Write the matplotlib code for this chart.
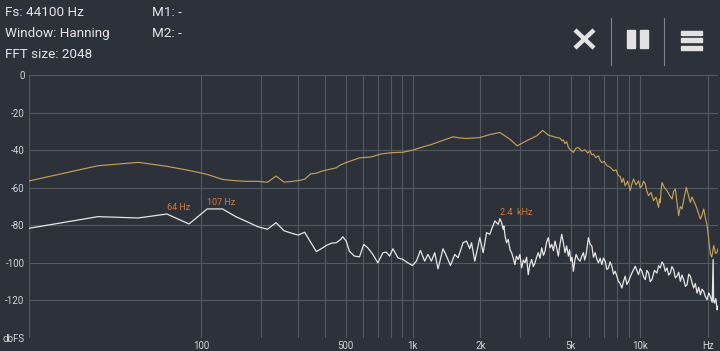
import numpy as np
import matplotlib
matplotlib.use("Agg")
import matplotlib.pyplot as plt
from matplotlib.patches import Rectangle

plt.rcParams['font.family'] = ['Roboto', 'DejaVu Sans']

# spectrum values (Hz, dBFS)
white_f = [0, 21.5, 43.1, 64.6, 86.1, 107.7, 129.2, 150.7, 172.3, 193.8, 215.3, 236.9, 258.4, 279.9,
           301.5, 323, 344.5, 366, 388, 409, 431, 452, 474, 484, 502, 519, 547, 577, 603, 629, 663, 698,
           736, 762, 788, 816, 859, 905, 953, 998, 1039, 1083, 1132, 1170, 1212, 1254, 1297, 1365, 1414,
           1473, 1539, 1592, 1675, 1735, 1794, 1826, 1888, 1987, 2055, 2128, 2200, 2239, 2315, 2394, 2436,
           2478, 2519, 2537, 2570, 2608, 2650, 2700, 2744, 2790, 2838, 2880, 2934, 2985, 3037, 3090, 3141,
           3195, 3248, 3300, 3363, 3420, 3477, 3535, 3595, 3660, 3722, 3790, 3848, 3910, 3979, 4050, 4119,
           4190, 4258, 4330, 4404, 4480, 4558, 4630, 4713, 4790, 4874, 4930, 4995, 5060, 5128, 5200, 5270,
           5380, 5488, 5580, 5675, 5750, 5832, 5900, 5970, 6070, 6179, 6280, 6388, 6500, 6604, 6720, 6835,
           6950, 7068, 7190, 7307, 7430, 7563, 7690, 7820, 7950, 8085, 8220, 8368, 8500, 8653, 8800, 8947,
           9100, 9260, 9420, 9572, 9730, 9899, 10070, 10246, 10420, 10594, 10770, 10952, 11140, 11334,
           11620, 11922, 12120, 12327, 12540, 12744, 12960, 13190, 13410, 13635, 13860, 14098, 14340,
           14592, 14840, 15087, 15340, 15599, 15870, 16145, 16420, 16690, 16970, 17257, 17550, 17860,
           18160, 18467, 18780, 19093, 19420, 19759, 20090, 20431, 20800, 20995, 21100, 21272, 21560,
           21860, 22000]
white_db = [-81.6, -75.4, -76.1, -74.0, -79.3, -71.3, -71.3, -75.4, -78.2, -80.8, -82.1, -78.6, -82.9, -84.2,
            -85.2, -83.7, -89.0, -94.0, -92.3, -90.6, -89.5, -89.3, -87.5, -86.1, -88.4, -93.8, -96.4, -96.8,
            -90.2, -92.0, -95.5, -100.0, -94.6, -94.3, -96.4, -92.5, -97.3, -98.2, -100.0, -101.4, -99.1,
            -93.4, -99.1, -95.5, -99.1, -94.6, -103.2, -92.5, -96.4, -101.4, -95.5, -97.3, -89.3, -88.4,
            -92.5, -89.3, -99.1, -86.6, -94.6, -83.9, -84.8, -82.1, -77.7, -79.5, -76.5, -78.6, -82.1, -80.4,
            -86.0, -89.3, -87.5, -93.0, -94.6, -97.5, -100.9, -96.5, -98.2, -95.5, -102.7, -98.5, -100.0,
            -97.0, -106.3, -101.0, -98.2, -102.0, -100.0, -97.0, -94.6, -97.5, -92.0, -96.0, -93.8, -89.0,
            -86.6, -92.0, -90.2, -93.5, -88.4, -92.0, -96.4, -90.0, -84.8, -89.0, -94.6, -91.0, -96.4, -93.0,
            -99.1, -97.0, -104.5, -99.0, -95.5, -98.0, -99.1, -96.5, -94.6, -98.5, -95.5, -91.0, -86.6, -90.0,
            -91.1, -97.0, -94.6, -98.0, -100.0, -97.5, -100.9, -97.5, -99.1, -103.5, -102.7, -99.5, -101.8,
            -106.0, -104.5, -107.0, -109.8, -111.0, -113.4, -110.0, -107.1, -111.5, -109.8, -107.5, -105.4,
            -103.5, -101.8, -104.0, -106.3, -103.0, -104.5, -107.5, -108.9, -104.0, -105.4, -110.0, -108.9,
            -104.0, -105.4, -101.5, -102.7, -99.5, -100.9, -104.5, -102.7, -106.5, -105.4, -102.0, -103.6,
            -108.0, -107.1, -105.0, -109.8, -106.5, -108.9, -112.5, -111.6, -106.0, -107.1, -110.5, -113.4,
            -111.0, -116.1, -113.0, -117.0, -114.0, -115.2, -118.0, -119.6, -116.0, -117.9, -121.0, -98.2,
            -120.0, -121.4, -119.0, -125.0, -123.2]

gold_f = [0, 21.5, 43.1, 64.6, 86.1, 107.7, 129.2, 150.7, 172.3, 193.8, 215.3, 236.9, 258.4, 279.9, 301.5,
          323, 344.5, 366, 388, 409, 431, 452, 474, 502, 577, 652, 723, 816, 905, 1000, 1151, 1191, 1320,
          1513, 1620, 1735, 1987, 2200, 2436, 2697, 2904, 3195, 3537, 3760, 3979, 4334, 4482, 4560, 4634,
          4710, 4796, 4874, 5000, 5128, 5260, 5395, 5580, 5772, 5920, 6072, 6180, 6279, 6440, 6604, 6720,
          6835, 7010, 7190, 7430, 7687, 7880, 8085, 8230, 8368, 8500, 8653, 8870, 9101, 9250, 9411, 9650,
          9899, 10070, 10246, 10420, 10594, 10770, 10952, 11230, 11519, 11800, 12116, 12220, 12327, 12430,
          12540, 12860, 13190, 13530, 13875, 14110, 14345, 14590, 14831, 15090, 15350, 15690, 16030,
          16360, 16690, 16970, 17257, 17560, 17860, 18160, 18467, 18780, 19093, 19420, 19759, 20081,
          20260, 20431, 20700, 21121, 21500, 21860, 22000]
gold_db = [-56.4, -48.3, -46.5, -48.6, -50.8, -52.9, -55.6, -56.3, -56.6, -56.6, -57.1, -53.8, -57.0, -56.7,
           -56.2, -55.5, -52.6, -52.3, -51.2, -50.6, -50.0, -49.4, -47.8, -46.6, -44.1, -43.6, -42.0, -41.3,
           -41.1, -40.0, -37.7, -37.3, -35.4, -32.9, -33.5, -33.8, -33.3, -31.7, -30.6, -34.2, -37.7, -35.0,
           -32.4, -29.5, -32.0, -33.3, -33.6, -35.0, -34.5, -36.5, -35.5, -38.6, -40.0, -41.2, -39.0, -38.6,
           -40.5, -39.8, -41.5, -40.4, -42.5, -42.1, -44.0, -43.0, -45.5, -46.6, -46.0, -48.3, -49.0, -51.0,
           -50.5, -53.6, -54.0, -57.2, -55.0, -59.0, -56.5, -61.6, -58.0, -55.4, -58.5, -56.3, -60.0, -59.0,
           -56.5, -58.0, -62.0, -64.3, -62.5, -66.9, -65.0, -70.5, -66.0, -67.8, -61.0, -57.2, -60.0, -61.6,
           -64.0, -66.0, -62.0, -60.7, -68.0, -74.9, -70.0, -71.3, -65.0, -59.8, -64.0, -67.8, -65.0, -66.9,
           -69.0, -71.3, -74.0, -76.7, -74.5, -71.3, -76.0, -80.2, -87.3, -92.0, -95.3, -97.0, -90.8, -95.0,
           -94.4, -92.6]

peak_f = [64.6, 107.7, 2436]
peak_db = [-74.0, -71.3, -76.5]
peak_txt = ["64 Hz", "107 Hz", "2.4  kHz"]

ytick_vals = [0, -20, -40, -60, -80, -100, -120, -140]
ytick_txt = ["0", "-20", "-40", "-60", "-80", "-100", "-120", "dbFS"]
xtick_vals = [100, 500, 1000, 2000, 5000, 10000, 20000]
xtick_txt = ["100", "500", "1k", "2k", "5k", "10k", "Hz"]
xgrid_vals = [100, 200, 300, 400, 500, 600, 700, 800, 900, 1000, 2000, 3000, 4000, 5000, 6000,
              7000, 8000, 9000, 10000, 20000]

bg = '#2d3139'
grid_col = '#535961'
txt_col = '#e4e4e4'
lbl_col = '#d2d4d7'
orange = '#d27a3e'

fig = plt.figure(figsize=(7.2, 3.51), dpi=100, facecolor=bg)
ax = fig.add_axes([29 / 720, 1 - 338 / 351, 689 / 720, 263 / 351])
ax.set_facecolor(bg)

off = 21.5
ax.set_xscale('function', functions=(lambda f: np.log10(np.maximum(f + off, 1e-3)),
                                     lambda v: 10 ** v - off))
ax.set_xlim(0, 22050)
ax.set_ylim(-140, 0)

for v in xgrid_vals:
    ax.axvline(v, color=grid_col, lw=0.8, zorder=0)
for v in ytick_vals:
    ax.axhline(v, color=grid_col, lw=0.8, zorder=0)
ax.axvline(0, color=grid_col, lw=0.8, zorder=0)

ax.plot(gold_f, gold_db, color='#c4a058', lw=0.85, zorder=2)
ax.plot(white_f, white_db, color='#e6e6e6', lw=0.9, zorder=3)

for f, d, t in zip(peak_f, peak_db, peak_txt):
    ax.annotate(t, (f, d), xytext=(0, 4.5), textcoords='offset points', ha='left', va='center',
                color=orange, fontsize=6.5)

ax.set_yticks(ytick_vals)
ax.set_yticklabels(ytick_txt)
ax.set_xticks(xtick_vals)
ax.set_xticklabels(xtick_txt)
ax.xaxis.set_minor_locator(matplotlib.ticker.NullLocator())
ax.tick_params(length=0, labelsize=7, colors=lbl_col)
ax.tick_params(axis='y', pad=3.3)
ax.tick_params(axis='x', pad=2.3)
for s in ax.spines.values():
    s.set_visible(False)

# header and toolbar drawn in pixel coordinates
ov = fig.add_axes([0, 0, 1, 1], facecolor='none')
ov.set_xlim(0, 720)
ov.set_ylim(351, 0)
ov.axis('off')

hdr = [(5, 12, "Fs: 44100 Hz"), (5, 33.5, "Window: Hanning"), (5, 55, "FFT size: 2048"),
       (152, 12, "M1: -"), (152, 33.5, "M2: -")]
for x, y, t in hdr:
    ov.text(x, y, t, color=txt_col, fontsize=9.7, va='center', ha='left')

icon = '#e2e2e2'
ov.plot([575, 594], [30, 48], color=icon, lw=3.2, solid_capstyle='butt')
ov.plot([575, 594], [48, 30], color=icon, lw=3.2, solid_capstyle='butt')
ov.plot([611, 611], [18, 65], color='#80848b', lw=0.8)
ov.plot([664, 664], [18, 65], color='#80848b', lw=0.8)
ov.add_patch(Rectangle((627, 30), 7.5, 18, color=icon))
ov.add_patch(Rectangle((640, 30), 7.5, 18, color=icon))
for y in [30.5, 38, 45.5]:
    ov.add_patch(Rectangle((681, y), 21, 4, color=icon))

fig.savefig('out.png', dpi=100, facecolor=bg)
